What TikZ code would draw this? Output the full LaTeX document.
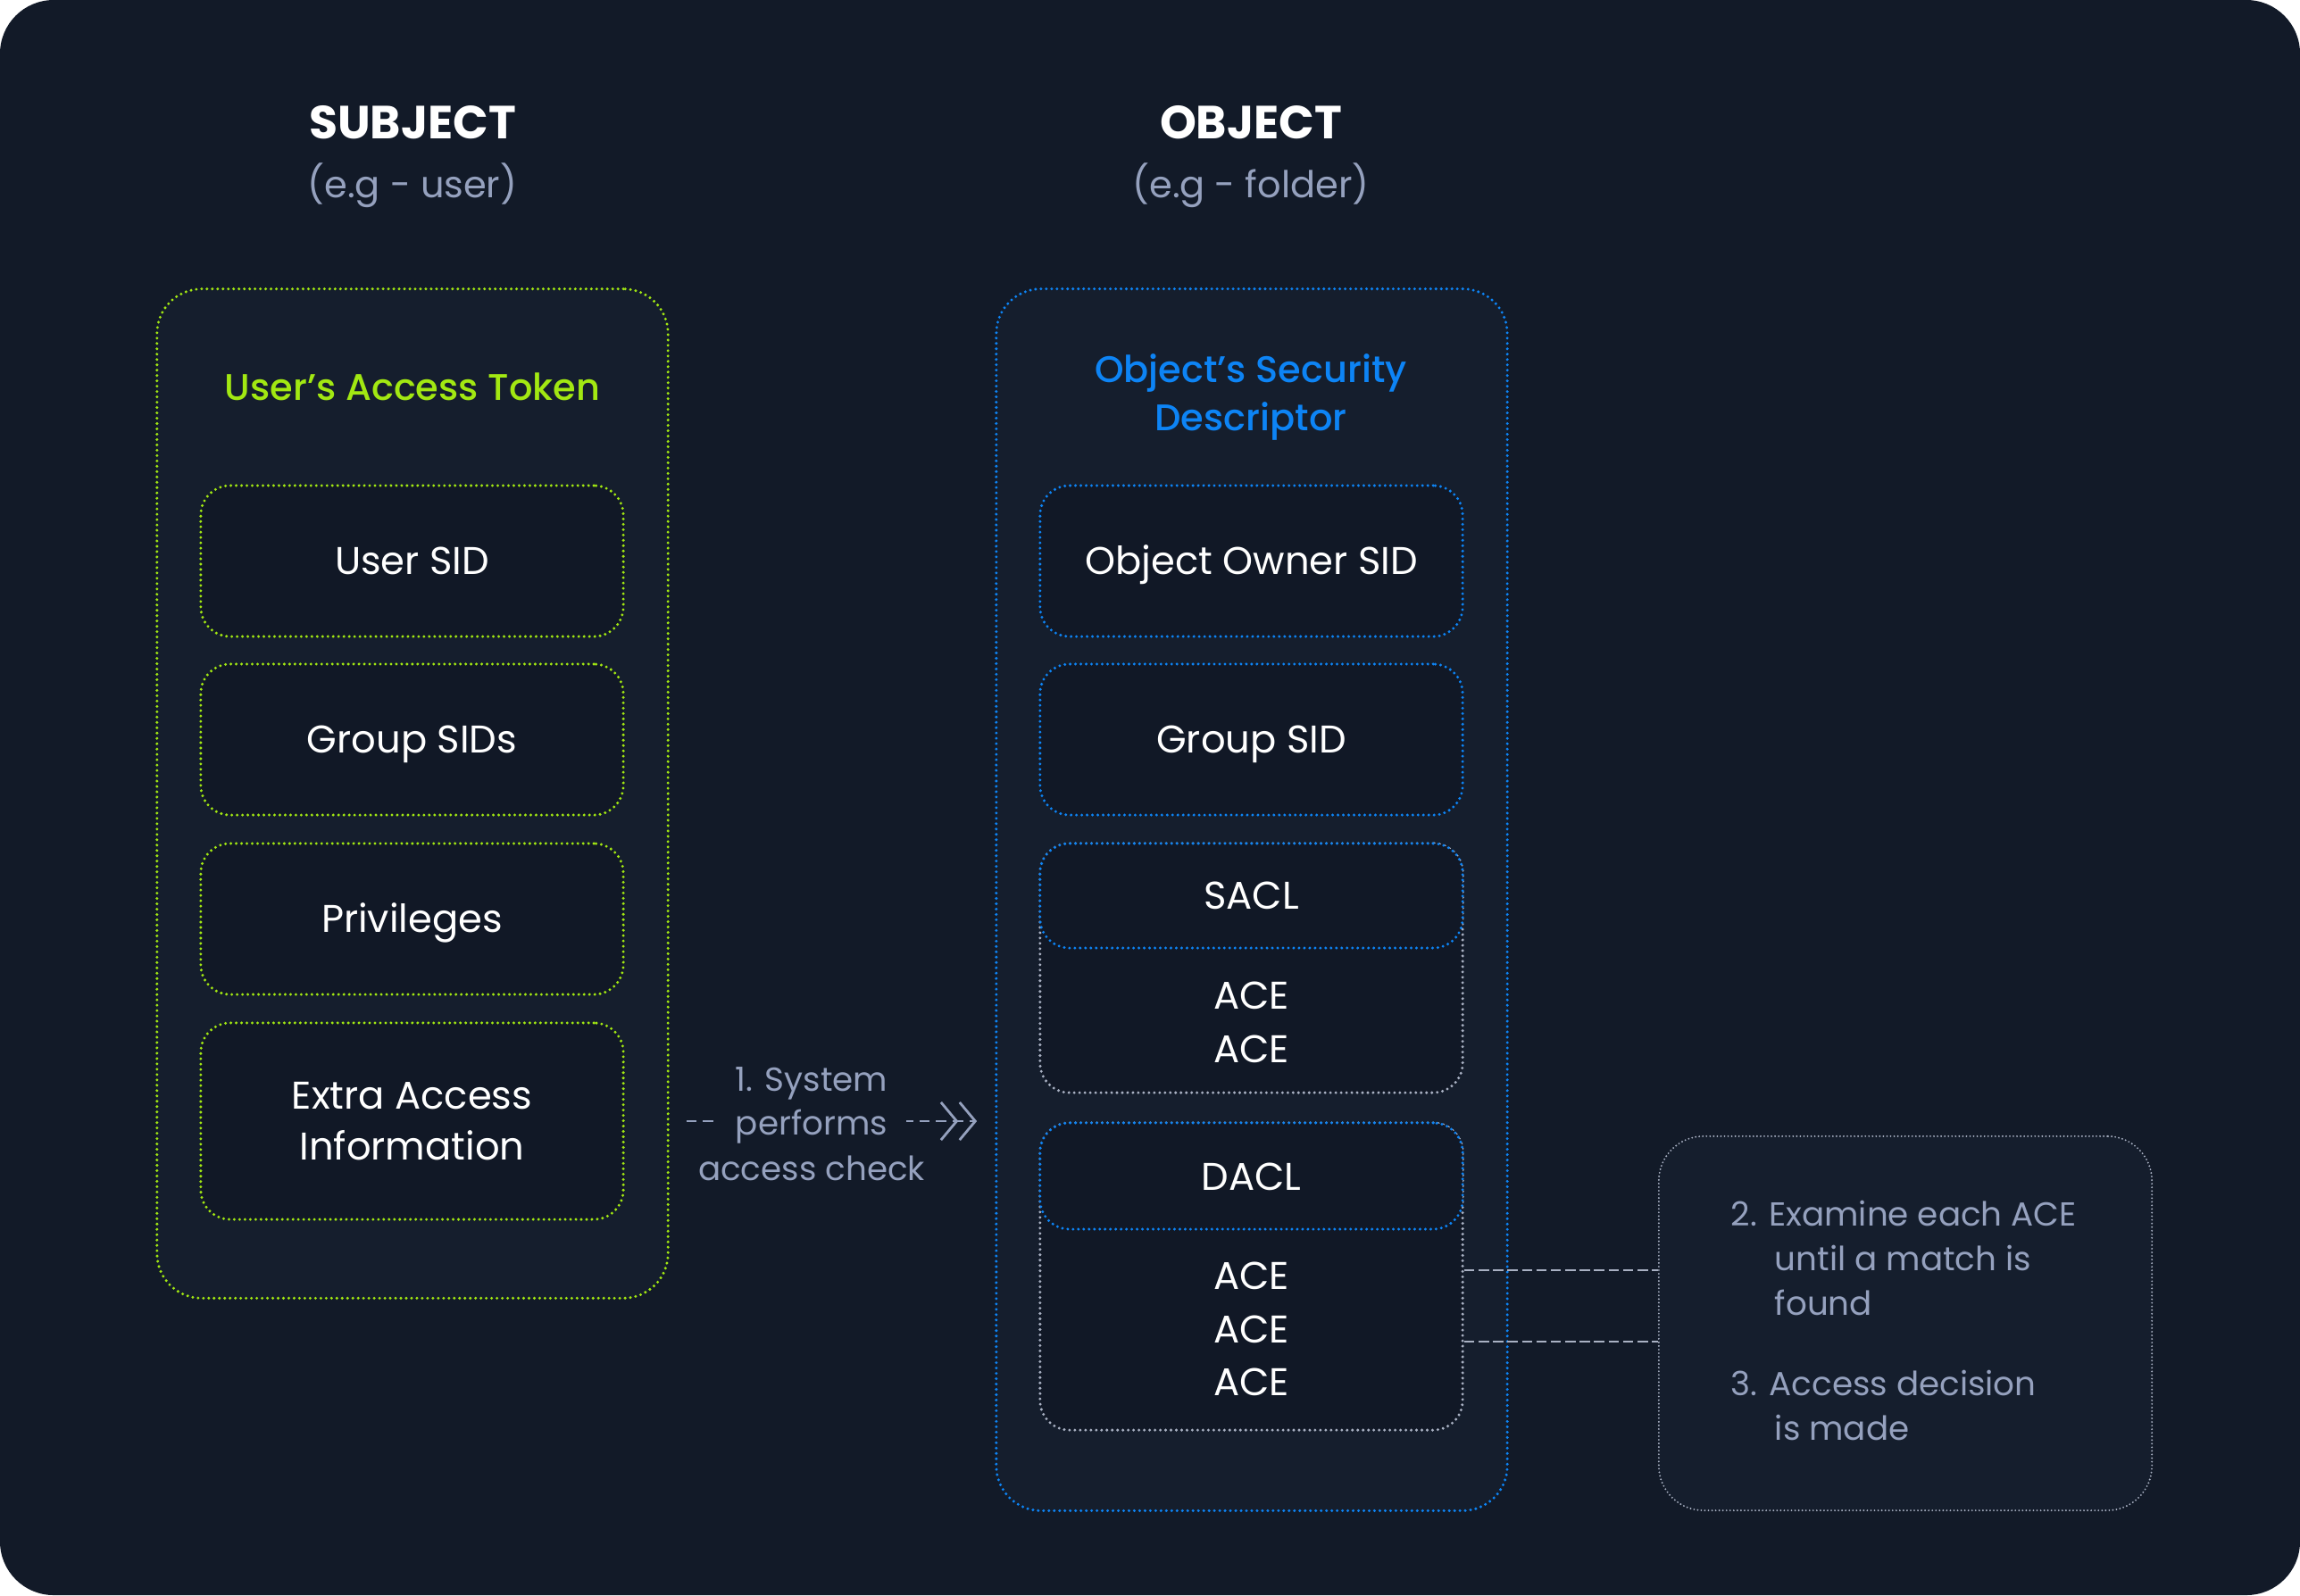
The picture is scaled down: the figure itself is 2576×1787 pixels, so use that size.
\documentclass[tikz,border=0pt]{standalone}
\usepackage{fontspec}
\setmainfont{Poppins}
\newfontfamily\headfont{Poppins Medium}
\usetikzlibrary{arrows.meta,positioning}

\definecolor{bg}{HTML}{121A28}
\definecolor{panelbg}{HTML}{151E2D}
\definecolor{cellbg}{HTML}{111826}
\definecolor{lime}{HTML}{A2E812}
\definecolor{azure}{HTML}{0D84F5}
\definecolor{mist}{HTML}{95A1BE}
\definecolor{ash}{HTML}{A9B1C3}

\begin{document}
\begin{tikzpicture}[x=0.01cm, y=-0.01cm]
    \tikzset{dots/.style = {line width=0.95pt, line cap=round, dash pattern=on 0pt off 1.7pt}}
    \tikzset{panel/.style = {shape=rectangle, dots, fill=panelbg, rounded corners=0.5cm, minimum width=5.72cm, inner sep=0pt}}
    \tikzset{cell/.style = {shape=rectangle, dots, fill=cellbg, rounded corners=0.33cm, minimum width=4.73cm, minimum height=1.69cm, align=center, text=white, text height=0.88em, text depth=0pt, font=\fontsize{12.3}{16}\selectfont}}
    \tikzset{acetext/.style = {align=center, text=white, inner sep=0pt, font=\fontsize{12.3}{17}\selectfont}}
    \tikzset{title/.style = {text=white, inner sep=0pt, font=\bfseries\fontsize{14.8}{18}\selectfont}}
    \tikzset{subtitle/.style = {text=mist, inner sep=0pt, font=\fontsize{11.8}{16}\selectfont}}
    \tikzset{head/.style = {inner sep=0pt, align=center, font=\headfont\fontsize{11.8}{15.3}\selectfont}}
    \tikzset{steptext/.style = {text=mist, inner sep=0pt, font=\fontsize{10.6}{14.2}\selectfont}}
    \tikzset{flow/.style = {draw=mist, line width=0.7pt, dash pattern=on 3.3pt off 2pt, shorten <=0.19cm, shorten >=0.2cm, -{Straight Barb[length=5pt,width=12pt,line width=0.8pt] Straight Barb[length=5pt,width=12pt,line width=0.8pt]}}}
    \tikzset{link/.style = {draw=ash, line width=0.8pt, dash pattern=on 3.3pt off 1.3pt}}

    % background
    \useasboundingbox (0,0) rectangle (2576,1787);
    \fill[white] (0,0) rectangle (2576,1787);
    \fill[bg, rounded corners=0.6cm] (0,0) rectangle (2576,1787);

    % titles
    \node[title, anchor=base] (subject) at (462,155) {SUBJECT};
    \node[subtitle, anchor=base] (subjecteg) at (462,221) {(e.g - user)};
    \node[title, anchor=base] (object) at (1401,155) {OBJECT};
    \node[subtitle, anchor=base] (objecteg) at (1401,221) {(e.g - folder)};

    % panels
    \node[panel, draw=lime, minimum height=11.30cm] (token) at (462,889) {};
    \node[panel, draw=azure, minimum height=13.68cm] (sd) at (1402,1008) {};
    \node[panel, draw=ash, minimum width=5.52cm, minimum height=4.19cm, line width=0.6pt, dash pattern=on 0pt off 1.15pt] (steps) at (2134,1482.5) {};
    \node[head, text=lime, anchor=base] (tokentitle) at (462,448) {User’s Access Token};
    \node[head, text=azure, anchor=base] (sdtitle) at (1401,482) {Object’s Security\\Descriptor};

    % token cells
    \node[cell, draw=lime] (usersid) at (461.5,628.5) {User SID};
    \node[cell, draw=lime] (groupsids) at (461.5,828.5) {Group SIDs};
    \node[cell, draw=lime] (privileges) at (461.5,1029.5) {Privileges};
    \node[cell, draw=lime, minimum height=2.2cm, text height=, text depth=] (extra) at (461.5,1256) {Extra Access\\Information};

    % descriptor cells
    \node[cell, draw=azure] (ownersid) at (1401.5,628.5) {Object Owner SID};
    \node[cell, draw=azure] (groupsid) at (1401.5,828.5) {Group SID};
    \node[cell, draw=ash, minimum height=2.79cm] (saclbody) at (1401.5,1084.5) {};
    \node[cell, draw=azure, minimum height=1.17cm] (sacl) at (1401.5,1003.5) {SACL};
    \node[acetext] (saclaces) at (1401.5,1145) {ACE\\ACE};
    \node[cell, draw=ash, minimum height=3.44cm] (daclbody) at (1401.5,1430) {};
    \node[cell, draw=azure, minimum height=1.19cm] (dacl) at (1401.5,1317.5) {DACL};
    \node[acetext] (daclaces) at (1401.5,1489) {ACE\\ACE\\ACE};

    % access check
    \coordinate (check) at (909,1256);
    \draw[flow] (check -| token.east) -- (check -| sd.west);
    \node[steptext, anchor=base] (system) at (909,1222) {1. System};
    \node[steptext, anchor=base, fill=bg, inner xsep=6pt] (performs) at (909,1271) {performs};
    \node[steptext, anchor=base] (accesscheck) at (909,1322) {access check};

    % steps
    \coordinate (tapa) at ([yshift=0.07cm]daclbody.east);
    \coordinate (tapb) at ([yshift=-0.73cm]daclbody.east);
    \draw[link] (tapa) -- (tapa -| steps.west);
    \draw[link] (tapb) -- (tapb -| steps.west);
    \node[steptext, align=left, anchor=base west] (examine) at (1938,1473) {2. Examine each ACE\\\hspace*{14pt}until a match is\\\hspace*{14pt}found};
    \node[steptext, align=left, anchor=base west] (decision) at (1938,1613) {3. Access decision\\\hspace*{14pt}is made};
\end{tikzpicture}
\end{document}
